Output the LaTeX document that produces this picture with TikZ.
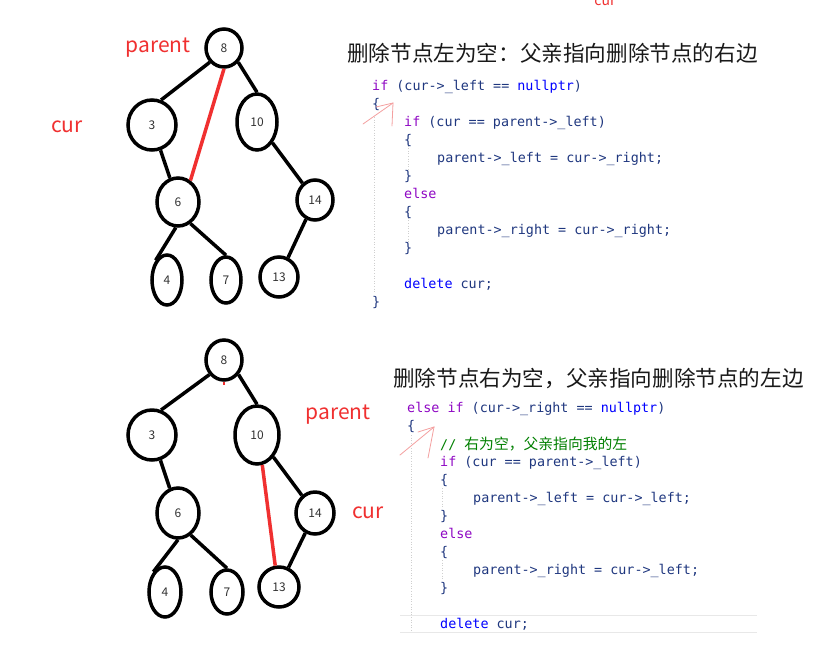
\documentclass[tikz,border=0pt]{standalone}
\usepackage{fontspec}
\newfontfamily\cjk{Noto Sans CJK SC}
\newfontfamily\codefont{DejaVu Sans Mono}
\usetikzlibrary{shapes.geometric}

\definecolor{penred}{HTML}{F03030}
\definecolor{inkred}{HTML}{F4A0A0}
\definecolor{kwpurple}{HTML}{8F08C4}
\definecolor{kwblue}{HTML}{0000FF}
\definecolor{idblue}{HTML}{1F377F}
\definecolor{cmtgreen}{HTML}{008000}
\definecolor{guide}{HTML}{CFCFCF}

\newcommand\kwp[1]{\textcolor{kwpurple}{#1}}
\newcommand\kwb[1]{\textcolor{kwblue}{#1}}

\tikzset{
	tnode/.style={ellipse, draw, line width=3.5pt, inner sep=0pt, text=black!80,
		font=\cjk\fontsize{12}{12}\selectfont},
	link/.style={line width=3.5pt},
	redlink/.style={line width=3.5pt, color=penred},
	lbl/.style={text=penred, inner sep=0pt, font=\cjk\fontsize{21}{21}\selectfont},
	heading/.style={anchor=west, inner sep=0pt, text=black!90, font=\cjk\fontsize{21.6}{21.6}\selectfont},
	codeline/.style={anchor=base west, inner sep=0pt, text=idblue, font=\codefont\fontsize{13.4}{13.4}\selectfont},
	inkpen/.style={color=inkred, line width=0.8pt, line cap=round},
	guideline/.style={color=guide, dotted, line width=0.6pt}
}

\begin{document}
\begin{tikzpicture}[x=1pt,y=-1pt]
			\fill[white] (0,0) rectangle (824,657);
			\useasboundingbox (0,0) rectangle (824,657);
			% top tree
			\node[tnode, minimum width=36pt, minimum height=38pt] (a8) at (224,48) {8};
			\node[tnode, minimum width=48pt, minimum height=50pt] (a3) at (152,125) {3};
			\node[tnode, minimum width=40pt, minimum height=56pt] (a10) at (257,122) {10};
			\node[tnode, minimum width=42pt, minimum height=48pt] (a6) at (178,202) {6};
			\node[tnode, minimum width=36pt, minimum height=40pt] (a14) at (315,200) {14};
			\node[tnode, minimum width=30pt, minimum height=50pt] (a4) at (167,280) {4};
			\node[tnode, minimum width=30pt, minimum height=46pt] (a7) at (226,280) {7};
			\node[tnode, minimum width=38pt, minimum height=40pt] (a13) at (279,277) {13};
			\draw[link] (a8.225) -- (a3.70);
			\draw[link] (a8.315) -- (a10.north);
			\draw[link] (a3) -- (a6);
			\draw[link] (a10) -- (a14);
			\draw[link] (a6.265) -- (a4.120);
			\draw[link] (a6.300) -- (a7.north);
			\draw[link] (a14) -- (a13);
			\draw[redlink] (a8.south) -- (a6.60);
			\node[lbl] (apar) at (158,48) {parent};
			\node[lbl] (acur) at (67,127) {cur};
			\node[lbl, anchor=base, font=\cjk\fontsize{14}{14}\selectfont] (ccur) at (605,5) {cur};

			% bottom tree
			\node[tnode, minimum width=36pt, minimum height=40pt] (b8) at (224,360) {8};
			\node[tnode, minimum width=48pt, minimum height=50pt] (b3) at (152,435) {3};
			\node[tnode, minimum width=44pt, minimum height=58pt] (b10) at (257,435) {10};
			\node[tnode, minimum width=42pt, minimum height=50pt] (b6) at (178,513) {6};
			\node[tnode, minimum width=38pt, minimum height=42pt] (b14) at (315,513) {14};
			\node[tnode, minimum width=32pt, minimum height=50pt] (b4) at (165,592) {4};
			\node[tnode, minimum width=32pt, minimum height=44pt] (b7) at (227,592) {7};
			\node[tnode, minimum width=40pt, minimum height=40pt] (b13) at (279,587) {13};
			\draw[link] (b8.225) -- (b3.70);
			\draw[link] (b8.315) -- (b10.north);
			\draw[link] (b3) -- (b6);
			\draw[link] (b10) -- (b14);
			\draw[link] (b6.south) -- (b4.120);
			\draw[link] (b6.300) -- (b7.north);
			\draw[link] (b14) -- (b13);
			\fill[white] (337,480) rectangle (350,550);
			\draw[redlink] (b10.280) -- (b13.100);
			\draw[redlink, line width=2pt] (b8.south) -- ++(0,3);
			\node[lbl] (bpar) at (338,415) {parent};
			\node[lbl] (bcur) at (368,513) {cur};

			% top code
			\node[heading] (ha) at (347,53) {删除节点左为空：父亲指向删除节点的右边};
			\draw[guideline] (374,117) -- (374,293);
			\draw[guideline] (408,143) -- (408,170);
			\draw[guideline] (408,210) -- (408,243);
			\node[codeline] (c1) at (372,90) {\kwp{if} (cur->\_left == \kwb{nullptr})};
			\node[codeline] (c2) at (372,108) {\{};
			\node[codeline] (c3) at (404,126) {\kwp{if} (cur == parent->\_left)};
			\node[codeline] (c4) at (404,144) {\{};
			\node[codeline] (c5) at (437,162) {parent->\_left = cur->\_right;};
			\node[codeline] (c6) at (404,180) {\}};
			\node[codeline] (c7) at (404,198) {\kwp{else}};
			\node[codeline] (c8) at (404,216) {\{};
			\node[codeline] (c9) at (437,234) {parent->\_right = cur->\_right;};
			\node[codeline] (c10) at (404,252) {\}};
			\node[codeline] (c11) at (404,288) {\kwb{delete} cur;};
			\node[codeline] (c12) at (372,306) {\}};
			\coordinate (tipa) at (393,103);
			\coordinate (taila) at (363,124);
			\coordinate (barba) at (376,107);
			\coordinate (barbb) at (392,126);
			\draw[inkpen] (taila) -- (tipa);
			\draw[inkpen] (barba) -- (tipa) -- (barbb);

			% bottom code
			\node[heading] (hb) at (393,378) {删除节点右为空，父亲指向删除节点的左边};
			\draw[guideline] (411,435) -- (411,632);
			\draw[guideline] (442,488) -- (442,507);
			\draw[guideline] (442,560) -- (442,580);
			\draw[color=black!9, line width=0.8pt] (400,615) -- (757,615);
			\draw[color=black!9, line width=0.8pt] (400,632) -- (757,632);
			\node[codeline] (d1) at (407,412) {\kwp{else if} (cur->\_right == \kwb{nullptr})};
			\node[codeline] (d2) at (407,430) {\{};
			\node[codeline, text=cmtgreen] (d3) at (440,449) {// {\cjk\fontsize{14.8}{14.8}\selectfont 右为空，父亲指向我的左}};
			\node[codeline] (d4) at (440,466) {\kwp{if} (cur == parent->\_left)};
			\node[codeline] (d5) at (440,484) {\{};
			\node[codeline] (d6) at (473,502) {parent->\_left = cur->\_left;};
			\node[codeline] (d7) at (440,520) {\}};
			\node[codeline] (d8) at (440,538) {\kwp{else}};
			\node[codeline] (d9) at (440,556) {\{};
			\node[codeline] (d10) at (473,574) {parent->\_right = cur->\_left;};
			\node[codeline] (d11) at (440,592) {\}};
			\node[codeline] (d12) at (440,628) {\kwb{delete} cur;};
			\coordinate (tipb) at (434,427);
			\coordinate (tailb) at (400,455);
			\coordinate (barbc) at (418,432);
			\coordinate (barbd) at (428,458);
			\draw[inkpen] (tailb) -- (tipb);
			\draw[inkpen] (barbc) -- (tipb) -- (barbd);
		\end{tikzpicture}
\end{document}
